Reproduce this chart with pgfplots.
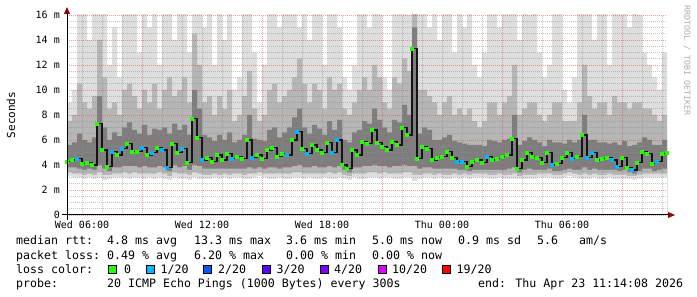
\documentclass[border=0pt]{standalone}
\usepackage{fontspec}
\setmainfont{DejaVu Sans Mono}
\usepackage{pgfplots}
\pgfplotsset{compat=1.18}
\usepackage{pgfplotstable}

\definecolor{gmaj}{RGB}{220,70,70}
\definecolor{gmin}{RGB}{140,140,140}
\definecolor{s1}{RGB}{222,222,222}
\definecolor{s2}{RGB}{182,182,182}
\definecolor{s3}{RGB}{126,126,126}
\definecolor{core}{RGB}{20,20,20}
\definecolor{l0}{HTML}{26FF00}
\definecolor{l1}{HTML}{00B8FF}
\definecolor{l2}{HTML}{0059FF}
\definecolor{l3}{HTML}{5E00FF}
\definecolor{l4}{HTML}{7E00FF}
\definecolor{l10}{HTML}{DD00FF}
\definecolor{l19}{HTML}{FF0000}
\definecolor{arrowred}{RGB}{140,0,0}

\pgfplotstableread{
t med cls lo1 lo2 lo3 hi3 hi2 hi1
5.25 4.3 a 3.1 3.4 3.8 5.6 7.5 9
5.50 4.4 a 3.0 3.3 3.8 5.8 8.0 10
5.75 4.5 b 3.0 3.3 3.7 6.5 10.5 17
6.00 4.1 a 2.9 3.2 3.6 6.0 9.0 17
6.25 4.2 a 3.0 3.3 3.7 5.8 8.5 14
6.50 4.0 a 2.9 3.2 3.6 6.2 9.5 17
6.75 7.3 a 3.0 3.4 4.0 9.5 14.0 17
7.00 5.2 a 2.8 3.2 3.7 7.0 11.0 17
7.25 3.9 a 2.9 3.2 3.5 6.0 8.5 12
7.50 5.1 b 3.0 3.3 3.8 6.6 9.0 15
7.75 4.8 a 3.0 3.3 3.8 6.3 8.0 11
8.00 5.3 b 3.0 3.4 3.9 7.0 10.0 17
8.25 5.7 a 2.9 3.3 3.9 7.4 10.5 17
8.50 5.1 a 3.0 3.4 3.9 6.8 9.5 17
8.75 5.1 a 3.0 3.3 3.8 6.5 8.5 13
9.00 5.4 b 2.9 3.3 3.9 7.2 10.0 17
9.25 4.8 a 3.0 3.3 3.8 6.4 9.0 15
9.50 5.0 b 2.9 3.3 3.8 6.9 10.5 17
9.75 5.4 a 3.0 3.4 3.9 6.8 8.5 12
10.00 5.2 b 2.9 3.3 3.8 7.0 10.0 17
10.25 3.8 b 2.8 3.1 3.5 6.5 11.0 17
10.50 5.7 a 3.0 3.4 4.0 7.3 9.5 14
10.75 5.0 a 2.9 3.3 3.8 6.8 10.0 17
11.00 5.3 b 2.9 3.3 3.9 7.2 11.0 17
11.25 4.2 a 2.8 3.2 3.6 6.4 9.0 13
11.50 7.7 a 3.0 3.4 4.0 10.0 14.5 17
11.75 6.2 a 2.9 3.3 3.9 8.5 12.0 17
12.00 4.4 b 2.9 3.2 3.7 6.4 9.0 15
12.25 4.6 a 2.9 3.2 3.7 6.2 9.5 17
12.50 4.3 a 3.0 3.3 3.7 5.9 8.0 12
12.75 4.8 a 2.9 3.2 3.7 6.4 9.5 17
13.00 4.4 a 3.0 3.3 3.7 6.0 8.5 14
13.25 4.9 a 2.9 3.2 3.7 6.6 10.0 17
13.50 4.5 b 3.0 3.3 3.7 5.8 7.5 10
13.75 4.7 a 3.0 3.3 3.7 6.0 8.0 11
14.00 4.5 a 2.9 3.2 3.7 6.4 9.5 17
14.25 6.0 a 2.9 3.3 3.8 8.0 11.5 17
14.50 4.6 b 3.0 3.3 3.7 6.1 8.5 13
14.75 4.8 a 3.1 3.4 3.8 6.0 7.5 9
15.00 4.5 a 3.0 3.3 3.7 5.9 8.0 12
15.25 5.2 a 2.9 3.3 3.8 6.8 10.0 17
15.50 5.4 a 2.9 3.3 3.8 7.0 10.5 17
15.75 4.7 a 3.0 3.3 3.7 6.2 9.0 15
16.00 4.9 a 2.9 3.3 3.8 6.6 9.5 17
16.25 4.8 b 2.9 3.3 3.8 7.0 10.0 17
16.50 6.0 a 3.0 3.4 3.9 7.8 11.0 17
16.75 6.7 b 3.0 3.4 4.0 8.5 12.5 15
17.00 5.3 a 2.9 3.3 3.8 7.0 10.5 17
17.25 4.9 b 3.0 3.3 3.8 6.5 9.0 14
17.50 5.6 a 2.9 3.3 3.9 7.2 10.5 17
17.75 5.2 a 2.9 3.3 3.8 6.9 10.0 17
18.00 5.0 a 3.0 3.3 3.8 6.4 8.5 12
18.25 5.8 a 2.9 3.4 3.9 7.5 11.0 17
18.50 5.0 b 2.9 3.3 3.8 6.8 10.0 17
18.75 6.0 b 3.0 3.4 3.9 7.6 10.5 15
19.00 4.0 a 2.9 3.2 3.6 6.0 8.5 11
19.25 3.7 a 2.8 3.1 3.4 5.8 8.0 10
19.50 5.2 a 3.0 3.3 3.8 6.6 9.0 12
19.75 4.8 a 2.9 3.3 3.8 6.8 10.0 17
20.00 5.9 a 2.9 3.3 3.9 7.5 11.0 17
20.25 5.7 a 3.0 3.4 3.9 7.3 10.0 15
20.50 6.8 a 3.0 3.4 4.0 8.5 12.0 17
20.75 5.8 a 2.9 3.3 3.9 7.6 11.0 17
21.00 5.5 a 3.0 3.4 3.9 7.0 9.0 11
21.25 5.2 a 3.0 3.3 3.8 6.6 8.5 10
21.50 5.9 a 2.9 3.3 3.9 7.6 11.0 17
21.75 5.6 a 2.9 3.3 3.9 7.4 10.5 17
22.00 7.0 a 3.0 3.4 4.0 8.8 12.5 17
22.25 6.4 a 3.0 3.4 3.9 8.0 11.5 16
22.50 13.3 a 2.7 3.2 3.9 15.0 17 17
22.75 4.5 a 2.9 3.2 3.7 6.5 10.0 17
23.00 5.5 a 3.0 3.3 3.8 7.0 10.0 17
23.25 5.3 a 3.0 3.3 3.8 6.8 9.5 15
23.50 4.4 a 2.9 3.2 3.7 6.0 9.0 17
23.75 4.6 a 3.0 3.3 3.7 6.0 8.0 14
24.00 4.7 a 2.9 3.2 3.7 6.2 9.0 17
24.25 5.1 a 2.9 3.2 3.7 6.4 9.5 17
24.50 4.6 a 3.0 3.3 3.7 5.9 8.0 13
24.75 4.3 b 2.9 3.2 3.6 5.8 8.5 17
25.00 4.3 b 3.0 3.3 3.6 5.7 8.0 15
25.25 3.9 a 2.9 3.2 3.5 5.6 8.5 17
25.50 4.3 a 3.0 3.3 3.6 5.6 7.5 12
25.75 4.4 a 3.0 3.3 3.6 5.6 7.0 11
26.00 4.2 a 3.0 3.3 3.6 5.5 7.5 13
26.25 4.7 b 2.9 3.2 3.6 6.0 9.0 17
26.50 4.4 a 2.9 3.2 3.6 5.9 9.0 17
26.75 4.5 a 3.0 3.3 3.6 5.8 8.0 15
27.00 4.7 a 2.9 3.2 3.6 6.0 9.0 17
27.25 4.8 a 2.9 3.2 3.7 6.1 9.5 17
27.50 6.1 a 2.9 3.3 3.8 8.0 12.0 17
27.75 3.7 a 2.9 3.1 3.4 5.6 8.0 14
28.00 4.4 a 2.9 3.2 3.6 5.9 8.5 17
28.25 5.0 a 2.9 3.2 3.7 6.2 9.0 16
28.50 4.7 a 2.9 3.2 3.6 6.0 9.0 17
28.75 4.6 a 3.0 3.3 3.6 5.8 8.0 13
29.00 4.2 a 3.0 3.3 3.6 5.5 7.5 11
29.25 5.0 a 3.0 3.3 3.7 6.0 8.0 12
29.50 4.0 b 2.9 3.2 3.5 5.8 9.0 17
29.75 4.1 a 2.9 3.2 3.5 5.8 9.0 17
30.00 4.6 a 3.0 3.3 3.6 5.7 7.5 10
30.25 5.0 a 3.1 3.4 3.7 6.0 7.5 9
30.50 4.5 b 3.0 3.3 3.6 5.8 7.5 11
30.75 4.7 a 2.9 3.2 3.6 6.0 9.0 17
31.00 6.4 a 2.9 3.3 3.8 8.0 12.0 17
31.25 4.6 b 2.9 3.2 3.6 6.0 9.5 17
31.50 5.0 b 3.0 3.3 3.7 6.0 8.5 14
31.75 4.4 a 2.9 3.2 3.6 5.8 9.0 17
32.00 4.5 a 2.9 3.2 3.6 5.8 9.0 17
32.25 4.6 a 3.0 3.3 3.6 5.7 8.0 12
32.50 4.4 b 2.9 3.2 3.6 5.8 9.5 17
32.75 3.9 b 2.9 3.2 3.5 5.6 9.0 17
33.00 4.6 a 2.9 3.2 3.6 5.9 9.0 17
33.25 3.8 a 2.9 3.1 3.4 5.5 8.5 15
33.50 3.6 b 2.8 3.1 3.3 5.6 9.0 17
33.75 4.2 a 2.9 3.2 3.5 5.8 9.0 16
34.00 5.1 a 3.0 3.3 3.7 6.2 8.5 13
34.25 4.9 a 3.0 3.3 3.7 6.0 8.5 12
34.50 4.1 a 3.0 3.3 3.5 5.6 8.0 11
34.75 4.3 b 3.0 3.3 3.6 5.6 7.5 10
35.00 4.9 a 3.0 3.3 3.7 6.0 8.0 13
35.25 5.0 a 3.0 3.3 3.7 6.0 8.0 13
}\smoke

\tikzset{
  rrdgrid/.style={gmaj, draw opacity=0.5, line width=0.7bp, dash pattern=on 1bp off 1bp},
  rrdmin/.style={gmin, draw opacity=0.5, line width=0.7bp, dash pattern=on 1bp off 1bp},
}
\pgfplotsset{
  rrd/.style={
    at={(67bp,82bp)}, anchor=south west,
    scale only axis, width=600bp, height=200bp,
    xmin=5.25, xmax=35.25, ymin=0, ymax=16,
  },
}

\begin{document}
\begin{tikzpicture}
\useasboundingbox (0,0) rectangle (697bp,297bp);
\begin{axis}[
  rrd,
  axis line style={draw=none},
  axis on top,
  major tick length=0pt, minor tick length=0pt,
  tick style={draw=none},
  xtick={9,15,21,27,33},
  xticklabels={},
  xmajorgrids=true,
  minor xtick={6,7,8,10,11,12,13,14,16,17,18,19,20,22,23,24,25,26,28,29,30,31,32,34,35},
  xminorgrids=true,
  extra x ticks={6,12,18,24,30},
  extra x tick labels={Wed 06:00, Wed 12:00, Wed 18:00, Thu 00:00, Thu 06:00},
  extra x tick style={grid=none},
  ytick={0,2,4,6,8,10,12,14,16},
  yticklabels={0,2 m,4 m,6 m,8 m,10 m,12 m,14 m,16 m},
  minor ytick={0.5,1,1.5,2.5,3,3.5,4.5,5,5.5,6.5,7,7.5,8.5,9,9.5,10.5,11,11.5,12.5,13,13.5,14.5,15,15.5},
  ymajorgrids=true, yminorgrids=true,
  major grid style={rrdgrid},
  minor grid style={rrdmin},
  tick label style={font=\fontsize{10bp}{12bp}\selectfont, text=black},
  yticklabel style={anchor=east, inner sep=0pt, xshift=-7bp},
  xticklabel style={anchor=north, inner sep=0pt, yshift=-6bp},
]
\addplot[const plot, fill=s1, draw=none] table[x=t, y=hi1] {\smoke} \closedcycle;
\addplot[const plot, fill=s2, draw=none] table[x=t, y=hi2] {\smoke} \closedcycle;
\addplot[const plot, fill=s3, draw=none] table[x=t, y=hi3] {\smoke} \closedcycle;
\addplot[const plot, fill=s2, draw=none] table[x=t, y=lo3] {\smoke} \closedcycle;
\addplot[const plot, fill=s1, draw=none] table[x=t, y=lo2] {\smoke} \closedcycle;
\addplot[const plot, fill=white, draw=none] table[x=t, y=lo1] {\smoke} \closedcycle;
\end{axis}
\begin{axis}[rrd, hide axis]
\addplot[const plot, core, line width=1.2bp] table[x=t, y=med] {\smoke};
\addplot[scatter, only marks, scatter src=explicit symbolic, mark size=1.5bp,
  scatter/classes={a={mark=square*, l0}, b={mark=square*, l1}}]
  table[x=t, y=med, meta=cls] {\smoke};
\end{axis}
% axis lines and arrows
\draw[black, line width=1bp] (62bp,82bp) -- (669bp,82bp);
\draw[black, line width=1bp] (67bp,77bp) -- (67bp,284bp);
\fill[arrowred] (64bp,283bp) -- (70bp,283bp) -- (67bp,290bp) -- cycle;
\fill[arrowred] (668bp,79bp) -- (668bp,85bp) -- (675bp,82bp) -- cycle;
% axis title and watermark
\node[rotate=90, inner sep=0pt, font=\fontsize{11bp}{13bp}\selectfont] at (11bp,182bp) {Seconds};
\node[rotate=-90, anchor=west, inner sep=0pt, font=\fontsize{8.3bp}{10bp}\selectfont, text=black!32] at (687bp,292bp) {RRDTOOL / TOBI OETIKER};
% legend
\begin{scope}[every node/.style={anchor=base west, inner sep=0pt, font=\fontsize{11.6bp}{14bp}\selectfont}]
\node at (16bp,52bp) {median rtt:};
\node at (107bp,52bp) {4.8 ms avg};
\node at (194bp,52bp) {13.3 ms max};
\node at (286bp,52bp) {3.6 ms min};
\node at (372bp,52bp) {5.0 ms now};
\node at (458bp,52bp) {0.9 ms sd};
\node at (537bp,52bp) {5.6};
\node at (579bp,52bp) {am/s};
\node at (16bp,38bp) {packet loss:};
\node at (107bp,38bp) {0.49 \% avg};
\node at (194bp,38bp) {6.20 \% max};
\node at (286bp,38bp) {0.00 \% min};
\node at (372bp,38bp) {0.00 \% now};
\node at (16bp,24bp) {loss color:};
\node at (124bp,24bp) {0};
\node at (160.5bp,24bp) {1/20};
\node at (218bp,24bp) {2/20};
\node at (276.5bp,24bp) {3/20};
\node at (334bp,24bp) {4/20};
\node at (392bp,24bp) {10/20};
\node at (456.5bp,24bp) {19/20};
\node at (16bp,10bp) {probe:};
\node at (107bp,10bp) {20 ICMP Echo Pings (1000 Bytes) every 300s};
\node at (478bp,10bp) {end: Thu Apr 23 11:14:08 2026};
\end{scope}
\begin{scope}[line width=0.8bp, draw=black]
\filldraw[fill=l0] (108.5bp,23.5bp) rectangle (116.5bp,31.5bp);
\filldraw[fill=l1] (146.5bp,23.5bp) rectangle (154.5bp,31.5bp);
\filldraw[fill=l2] (203.5bp,23.5bp) rectangle (211.5bp,31.5bp);
\filldraw[fill=l3] (262bp,23.5bp) rectangle (270bp,31.5bp);
\filldraw[fill=l4] (320bp,23.5bp) rectangle (328bp,31.5bp);
\filldraw[fill=l10] (378bp,23.5bp) rectangle (386bp,31.5bp);
\filldraw[fill=l19] (442.5bp,23.5bp) rectangle (450.5bp,31.5bp);
\end{scope}
\end{tikzpicture}
\end{document}
